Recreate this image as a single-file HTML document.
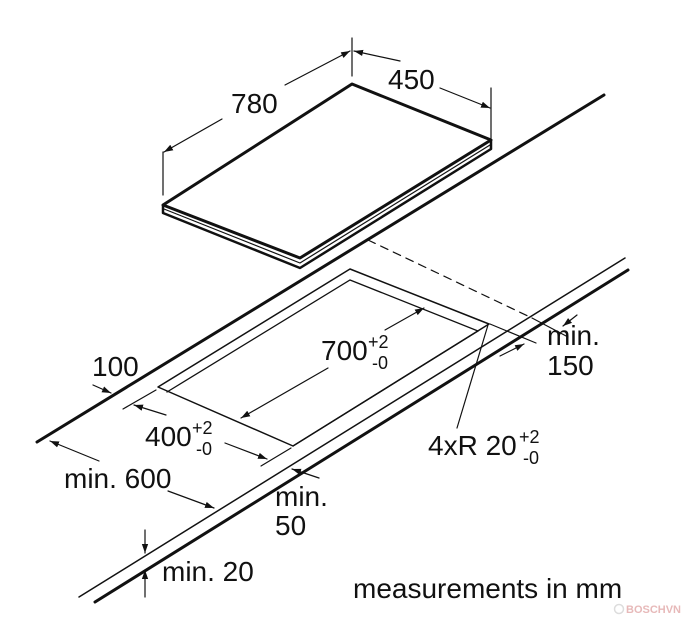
<!DOCTYPE html>
<html><head><meta charset="utf-8"><style>
html,body{margin:0;padding:0;background:#fff;}
svg{display:block;}
text{font-family:"Liberation Sans",Arial,sans-serif;fill:#111;}
</style></head><body>
<svg width="700" height="617" viewBox="0 0 700 617" xmlns="http://www.w3.org/2000/svg">
<defs>
<marker id="a" viewBox="0 0 10 10" refX="10" refY="5" markerWidth="9" markerHeight="9" orient="auto-start-reverse" markerUnits="userSpaceOnUse">
<path d="M0,1.5 L10,5 L0,8.5 Z" fill="#111"/></marker>
</defs>
<g stroke="#111" fill="none" stroke-linecap="round">
<path d="M352,84 L491,140 L300,258 L163,205 Z" stroke-width="3" stroke-linejoin="round"/>
<path d="M163,205 L163,213 L300,268 L491,149 L491,140" stroke-width="2.5" stroke-linejoin="round"/>
<path d="M164,209 L300,263 L490,145" stroke-width="1.2"/>
<line x1="163" y1="152" x2="163" y2="195" stroke-width="1.2"/>
<line x1="352" y1="38" x2="352" y2="76" stroke-width="1.2"/>
<line x1="491" y1="88" x2="491" y2="138" stroke-width="1.2"/>
<line x1="222" y1="119" x2="164" y2="152" stroke-width="1.2" marker-end="url(#a)"/>
<line x1="285" y1="85" x2="350" y2="51" stroke-width="1.2" marker-end="url(#a)"/>
<line x1="400" y1="61" x2="354" y2="51" stroke-width="1.2" marker-end="url(#a)"/>
<line x1="440" y1="88" x2="490" y2="108" stroke-width="1.2" marker-end="url(#a)"/>
<line x1="604" y1="95" x2="37" y2="442" stroke-width="3"/>
<line x1="625" y1="258" x2="79" y2="597" stroke-width="1.5"/>
<line x1="628" y1="270" x2="95" y2="602" stroke-width="3"/>
<line x1="368" y1="240" x2="532" y2="318" stroke-width="1.2" stroke-dasharray="8,6"/>
<line x1="532" y1="318" x2="568" y2="337" stroke-width="1.2"/>
<line x1="490" y1="324" x2="536" y2="343" stroke-width="1.2"/>
<line x1="577" y1="315" x2="563" y2="326" stroke-width="1.2" marker-end="url(#a)"/>
<line x1="500" y1="356" x2="524" y2="344" stroke-width="1.2" marker-end="url(#a)"/>
<path d="M350,269 L489,324 L293,446 L158,387 Z" stroke-width="1.5" stroke-linejoin="round"/>
<path d="M167,392 L350,280 L478,331 L293,446" stroke-width="1.3"/>
<line x1="385" y1="330" x2="424" y2="308" stroke-width="1.2" marker-end="url(#a)"/>
<line x1="328" y1="368" x2="241" y2="418" stroke-width="1.2" marker-end="url(#a)"/>
<line x1="156" y1="390" x2="123" y2="409" stroke-width="1.2"/>
<line x1="291" y1="448" x2="261" y2="466" stroke-width="1.2"/>
<line x1="166" y1="415" x2="134" y2="405" stroke-width="1.2" marker-end="url(#a)"/>
<line x1="225" y1="443" x2="267" y2="459" stroke-width="1.2" marker-end="url(#a)"/>
<line x1="488" y1="325" x2="457" y2="428" stroke-width="1.2"/>
<line x1="93" y1="385" x2="111" y2="393" stroke-width="1.2" marker-end="url(#a)"/>
<line x1="99" y1="461" x2="50" y2="441" stroke-width="1.2" marker-end="url(#a)"/>
<line x1="168" y1="491" x2="214" y2="508" stroke-width="1.2" marker-end="url(#a)"/>
<line x1="319" y1="478" x2="292" y2="469" stroke-width="1.2" marker-end="url(#a)"/>
<line x1="145" y1="530" x2="145" y2="553" stroke-width="1.2" marker-end="url(#a)"/>
<line x1="145" y1="597" x2="145" y2="570" stroke-width="1.2" marker-end="url(#a)"/>
</g>
<g font-size="28">
<text x="231" y="113">780</text>
<text x="388" y="89">450</text>
<text x="321" y="360">700</text>
<text x="368" y="348" font-size="18">+2</text>
<text x="372" y="369" font-size="18">-0</text>
<text x="145" y="446">400</text>
<text x="192" y="434" font-size="18">+2</text>
<text x="196" y="455" font-size="18">-0</text>
<text x="428" y="455">4xR 20</text>
<text x="519" y="443" font-size="18">+2</text>
<text x="523" y="464" font-size="18">-0</text>
<text x="92" y="376">100</text>
<text x="547" y="345">min.</text>
<text x="547" y="375">150</text>
<text x="64" y="488">min. 600</text>
<text x="275" y="506">min.</text>
<text x="275" y="535">50</text>
<text x="162" y="581">min. 20</text>
<text x="353" y="598">measurements in mm</text>
<text x="626" y="613" font-size="11" style="fill:#e7b9b9;font-weight:bold">BOSCHVN</text>
</g>
<circle cx="619" cy="609" r="4.5" fill="none" stroke="#ddd" stroke-width="1.5"/>
</svg>
</body></html>
